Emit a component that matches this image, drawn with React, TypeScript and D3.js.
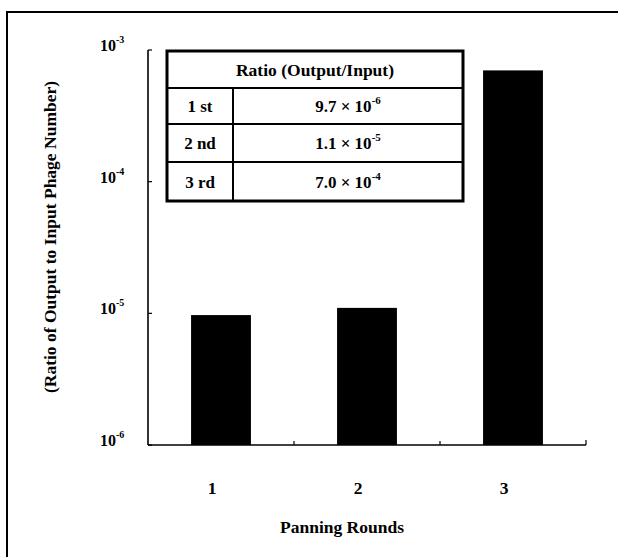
import React from "react";
import * as d3 from "d3";

const rounds = ["1", "2", "3"];
const ratios = [9.7e-6, 1.1e-5, 7.0e-4];
const ordinalLabels = ["1 st", "2 nd", "3 rd"];
const mantissas = ["9.7", "1.1", "7.0"];
const exponents = ["-6", "-5", "-4"];
const yTickValues = [1e-6, 1e-5, 1e-4, 1e-3];
const yTickExps = ["-6", "-5", "-4", "-3"];

const W = 618;
const H = 557;
const FONT = "'Liberation Serif', 'DejaVu Serif', serif";

export default function App() {
  const left = 148, right = 586, top = 50, bottom = 445;
  const x = d3.scaleBand<string>().domain(rounds).range([left, right]).padding(0);
  const y = d3.scaleLog().domain([1e-6, 1e-3]).range([bottom, top]);
  const barW = x.bandwidth() * 0.41;

  // table geometry
  const tx0 = 167, tx1 = 463, tcol = 233;
  const rowYs = [51, 88, 124, 162, 201];

  return (
    <svg width={W} height={H} style={{ position: "absolute", left: 0, top: 0, background: "#fff" }}
      fontFamily={FONT}>
      <rect x={0} y={0} width={W} height={H} fill="#fff" />
      {/* outer frame */}
      <path d={`M7,${H + 5} L7,12 L${W + 5},12`} fill="none" stroke="#000" strokeWidth={2} />

      {/* bars */}
      {ratios.map((v, i) => {
        const cx = (x(rounds[i]) as number) + x.bandwidth() / 2;
        return (
          <rect key={i} x={cx - barW / 2} y={y(v)} width={barW} height={bottom - y(v)} fill="#000" />
        );
      })}

      {/* axes */}
      <line x1={left} y1={top} x2={left} y2={bottom} stroke="#000" strokeWidth={1.6} />
      <line x1={left} y1={bottom} x2={right} y2={bottom} stroke="#000" strokeWidth={1.6} />
      {yTickValues.map((t, i) => (
        <g key={i}>
          <line x1={left} x2={left + 4} y1={y(t)} y2={y(t)} stroke="#000" strokeWidth={1.2} />
          <text x={100} y={y(t) + 1} fontSize={16} fontWeight="bold">
            10<tspan fontSize={10} dy={-8}>{yTickExps[i]}</tspan>
          </text>
        </g>
      ))}
      {rounds.slice(1).map((r) => (
        <line key={r} x1={x(r) as number} x2={x(r) as number} y1={bottom} y2={bottom - 4} stroke="#000" strokeWidth={1.2} />
      ))}
      <line x1={right} x2={right} y1={bottom} y2={bottom - 5} stroke="#000" strokeWidth={1.2} />

      {rounds.map((r) => (
        <text key={r} x={(x(r) as number) + x.bandwidth() / 2 - 9} y={494} fontSize={17.5} fontWeight="bold" textAnchor="middle">
          {r}
        </text>
      ))}
      <text x={342} y={533} fontSize={17.5} fontWeight="bold" textAnchor="middle">Panning Rounds</text>
      <text transform={`translate(56,237) rotate(-90)`} fontSize={17.5} fontWeight="bold" textAnchor="middle">
        (Ratio of Output to Input Phage Number)
      </text>

      {/* table */}
      <rect x={tx0} y={rowYs[0]} width={tx1 - tx0} height={rowYs[4] - rowYs[0]} fill="#fff" stroke="#000" strokeWidth={3} />
      {rowYs.slice(1, 4).map((ry, i) => (
        <line key={i} x1={tx0} x2={tx1} y1={ry} y2={ry} stroke="#000" strokeWidth={2} />
      ))}
      <line x1={tcol} x2={tcol} y1={rowYs[1]} y2={rowYs[4]} stroke="#000" strokeWidth={2} />
      <text x={(tx0 + tx1) / 2} y={(rowYs[0] + rowYs[1]) / 2 + 6} fontSize={17.5} fontWeight="bold" textAnchor="middle">
        Ratio (Output/Input)
      </text>
      {ordinalLabels.map((lab, i) => (
        <g key={i}>
          <text x={(tx0 + tcol) / 2} y={(rowYs[i + 1] + rowYs[i + 2]) / 2 + 6} fontSize={17} fontWeight="bold" textAnchor="middle">
            {lab}
          </text>
          <text x={(tcol + tx1) / 2} y={(rowYs[i + 1] + rowYs[i + 2]) / 2 + 6} fontSize={17} fontWeight="bold" textAnchor="middle">
            {mantissas[i]} × 10<tspan fontSize={11} dy={-8}>{exponents[i]}</tspan>
          </text>
        </g>
      ))}
    </svg>
  );
}
